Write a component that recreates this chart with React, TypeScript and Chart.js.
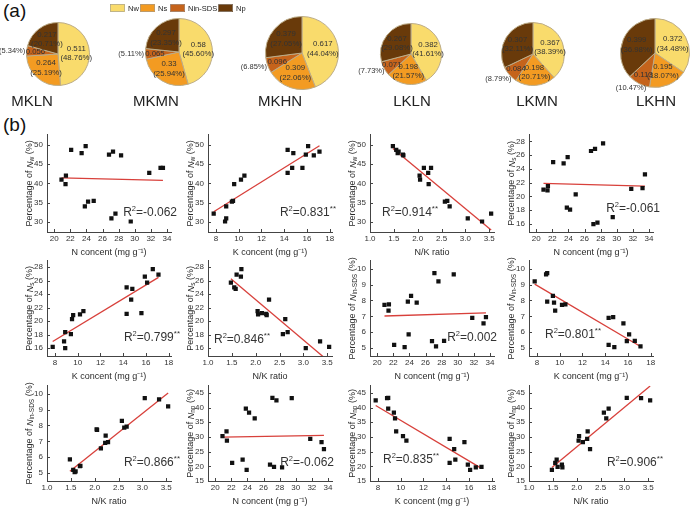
import React, { useEffect, useRef } from 'react';
import { Chart, registerables } from 'chart.js';

Chart.register(...registerables);

const FONT = '"Liberation Sans", Arial, Helvetica, sans-serif';

// ---------------- (a) pie data ----------------
const treatments = ['MKLN', 'MKMN', 'MKHN', 'LKLN', 'LKMN', 'LKHN'];
const fractionNames = ['Nw', 'Ns', 'Nin-SDS', 'Np'];
const nwValue = [0.511, 0.58, 0.617, 0.382, 0.367, 0.372];
const nsValue = [0.264, 0.33, 0.309, 0.198, 0.198, 0.195];
const ninValue = [0.056, 0.065, 0.096, 0.071, 0.084, 0.113];
const npValue = [0.217, 0.297, 0.379, 0.267, 0.307, 0.399];
const nwPct = [48.76, 45.6, 44.04, 41.61, 38.39, 34.48];
const nsPct = [25.19, 25.94, 22.06, 21.57, 20.71, 18.07];
const ninPct = [5.34, 5.11, 6.85, 7.73, 8.79, 10.47];
const npPct = [20.71, 23.35, 27.05, 29.08, 32.11, 36.98];

// ---------------- (b) scatter data (18 observations) ----------------
const nConc = [20.9, 21.4, 21.45, 22.1, 23.4, 23.9, 23.8, 24.2, 24.9, 26.8, 27.3, 28.3, 27.1, 27.6, 29.5, 31.8, 33.2, 33.5];
const kConc = [10.2, 9.6, 10.5, 14.3, 14.8, 16.1, 8.9, 9.4, 9.5, 15.9, 17.1, 16.6, 8.9, 7.8, 8.8, 14.3, 15.6, 14.7];
const nkRatio = [2.05, 2.23, 2.04, 1.55, 1.58, 1.48, 2.67, 2.57, 2.62, 1.69, 1.6, 1.7, 3.05, 3.54, 3.35, 2.22, 2.13, 2.28];
const pctNw = [41.0, 39.8, 42.0, 48.6, 47.8, 49.6, 34.1, 35.3, 35.5, 47.4, 48.2, 47.2, 31.0, 32.2, 30.2, 42.7, 44.0, 44.0];
const pctNs = [21.0, 20.9, 21.5, 25.0, 24.8, 25.7, 18.4, 18.1, 20.3, 26.6, 26.9, 27.7, 16.0, 16.2, 17.0, 21.1, 21.2, 23.2];
const pctNin = [7.72, 7.36, 7.76, 5.2, 5.06, 5.87, 7.92, 8.29, 7.86, 5.44, 5.1, 5.46, 9.72, 9.2, 9.64, 6.9, 6.55, 6.95];
const pctNp = [30.3, 31.9, 28.7, 21.2, 22.3, 18.8, 39.6, 38.3, 36.3, 20.6, 19.8, 19.6, 43.3, 42.4, 43.2, 29.3, 28.25, 25.85];

// tick labels
const nTicks = [20, 22, 24, 26, 28, 30, 32, 34];
const kTicks = [8, 10, 12, 14, 16, 18];
const nkTicks = [1.0, 1.5, 2.0, 2.5, 3.0, 3.5];
const nwTicks = [30, 35, 40, 45, 50];
const nsTicks = [16, 18, 20, 22, 24, 26, 28];
const ninTicks = [5, 6, 7, 8, 9, 10];
const npTicks = [15, 20, 25, 30, 35, 40, 45];

// fitted regression lines (end points)
const fitNwN = [[20.9, 41.4], [33.5, 40.8]];
const fitNwK = [[7.8, 32.7], [17.1, 49.7]];
const fitNwNK = [[1.48, 49.0], [3.54, 28.0]];
const fitNsN = [[20.9, 21.9], [33.5, 21.5]];
const fitNsK = [[7.8, 17.0], [17.1, 26.5]];
const fitNsNK = [[1.48, 26.3], [3.54, 14.0]];
const fitNinN = [[20.9, 7.02], [33.5, 7.22]];
const fitNinK = [[7.8, 9.03], [17.1, 5.1]];
const fitNinNK = [[1.48, 5.12], [3.54, 10.05]];
const fitNpN = [[20.9, 29.9], [33.5, 30.5]];
const fitNpK = [[7.8, 40.7], [17.1, 19.3]];
const fitNpNK = [[1.48, 19.6], [3.54, 47.3]];

const r2Labels = ['-0.062', '0.831**', '0.914**', '-0.061', '0.799**', '0.846**', '0.002', '0.801**', '0.866**', '-0.062', '0.835**', '0.906**'];

// ---------------- styles ----------------
const pieColors = ['#F9DB6C', '#F39B22', '#C5631B', '#693A0A'];
const pieBorder = '#BCAC88';
const RED = '#D8403B';
const AXIS = '#444';
const TXT = '#2a2a2a';

const pieCenters = [[58, 54], [179, 52], [302, 53], [411, 54], [533, 54], [655, 53]];
const pieRadii = [32, 34, 37, 31, 32, 35];
const nameCenters = [32, 156, 280, 412, 537, 656];

const xAxes: any = {
  N: { title: 'N concent (mg g\u207B\u00B9)', min: 19.1, max: 34.5, ticks: nTicks, dec: 0 },
  K: { title: 'K concent (mg g\u207B\u00B9)', min: 7.3, max: 18.2, ticks: kTicks, dec: 0 },
  NK: { title: 'N/K ratio', min: 1.0, max: 3.6, ticks: nkTicks, dec: 1 },
};
const yAxes: any = {
  Nw: { sub: 'w', min: 27.5, max: 52.5, ticks: nwTicks },
  Ns: { sub: 's', min: 14.85, max: 28.95, ticks: nsTicks },
  Nin: { sub: 'in-SDS', min: 4.5, max: 10.5, ticks: ninTicks },
  Np: { sub: 'np', min: 15, max: 47.4, ticks: npTicks },
};

const colLeft = [47, 208, 370, 529];
const rowTop = [132, 258, 383];
const rowH = [100, 98, 98];
const PLOT_W = 124;

type Panel = { xs: number[]; ys: number[]; xa: string; ya: string; fit: number[][]; align: 'left' | 'right'; dx: number; dy: number };

const panels: Panel[] = [
  { xs: nConc, ys: pctNw, xa: 'N', ya: 'Nw', fit: fitNwN, align: 'right', dx: 6, dy: 19 },
  { xs: kConc, ys: pctNw, xa: 'K', ya: 'Nw', fit: fitNwK, align: 'right', dx: 4, dy: 19 },
  { xs: nkRatio, ys: pctNw, xa: 'NK', ya: 'Nw', fit: fitNwNK, align: 'left', dx: 12, dy: 19 },
  { xs: nConc, ys: pctNs, xa: 'N', ya: 'Ns', fit: fitNsN, align: 'right', dx: 7, dy: 23 },
  { xs: kConc, ys: pctNs, xa: 'K', ya: 'Ns', fit: fitNsK, align: 'right', dx: 9, dy: 18 },
  { xs: nkRatio, ys: pctNs, xa: 'NK', ya: 'Ns', fit: fitNsNK, align: 'left', dx: 6, dy: 16 },
  { xs: nConc, ys: pctNin, xa: 'N', ya: 'Nin', fit: fitNinN, align: 'right', dx: 3, dy: 18 },
  { xs: kConc, ys: pctNin, xa: 'K', ya: 'Nin', fit: fitNinK, align: 'left', dx: 16, dy: 21 },
  { xs: nkRatio, ys: pctNin, xa: 'NK', ya: 'Nin', fit: fitNinNK, align: 'right', dx: 9, dy: 18 },
  { xs: nConc, ys: pctNp, xa: 'N', ya: 'Np', fit: fitNpN, align: 'right', dx: 2, dy: 18 },
  { xs: kConc, ys: pctNp, xa: 'K', ya: 'Np', fit: fitNpK, align: 'left', dx: 13, dy: 21 },
  { xs: nkRatio, ys: pctNp, xa: 'NK', ya: 'Np', fit: fitNpNK, align: 'right', dx: 10, dy: 18 },
];

const Y_AXIS_W = 47;
const X_AXIS_H = 28;
const PAD_TOP = 6;
const PAD_RIGHT = 16;

function drawParts(ctx: CanvasRenderingContext2D, parts: any[], x0: number, y0: number, align: 'left' | 'right' | 'center') {
  let total = 0;
  parts.forEach((p) => {
    ctx.font = p.font;
    p.w = ctx.measureText(p.t).width;
    total += p.w;
  });
  let x = align === 'left' ? x0 : align === 'right' ? x0 - total : x0 - total / 2;
  ctx.textAlign = 'left';
  parts.forEach((p) => {
    ctx.font = p.font;
    ctx.fillText(p.t, x, y0 + (p.dy || 0));
    x += p.w;
  });
}

function scatterConfig(p: Panel, idx: number): any {
  const xa = xAxes[p.xa];
  const ya = yAxes[p.ya];
  const plugin = {
    id: 'panelDeco' + idx,
    afterDraw(chart: any) {
      const { ctx, chartArea } = chart;
      const xs = chart.scales.x;
      const ysc = chart.scales.y;
      ctx.save();
      // inward tick marks
      ctx.strokeStyle = AXIS;
      ctx.lineWidth = 1;
      ctx.beginPath();
      xs.ticks.forEach((t: any) => {
        const px = Math.round(xs.getPixelForValue(t.value)) + 0.5;
        ctx.moveTo(px, chartArea.bottom);
        ctx.lineTo(px, chartArea.bottom - 3);
      });
      ysc.ticks.forEach((t: any) => {
        const py = Math.round(ysc.getPixelForValue(t.value)) + 0.5;
        ctx.moveTo(chartArea.left, py);
        ctx.lineTo(chartArea.left + 3, py);
      });
      ctx.stroke();
      // y title with subscript
      ctx.fillStyle = TXT;
      ctx.textBaseline = 'middle';
      ctx.translate(chartArea.left - 17, (chartArea.top + chartArea.bottom) / 2);
      ctx.rotate(-Math.PI / 2);
      drawParts(ctx, [
        { t: 'Percentage of ', font: `9px ${FONT}` },
        { t: 'N', font: `italic 9px ${FONT}` },
        { t: ya.sub, font: `6.5px ${FONT}`, dy: 2.5 },
        { t: ' (%)', font: `9px ${FONT}` },
      ], 0, 0, 'center');
      ctx.setTransform(1, 0, 0, 1, 0, 0);
      // R^2 text
      const label = r2Labels[idx];
      const stars = label.endsWith('**') ? '**' : '';
      const num = label.replace('**', '');
      const x0 = p.align === 'right' ? chartArea.right + p.dx : chartArea.left + p.dx;
      const y0 = chartArea.bottom - p.dy;
      ctx.fillStyle = '#333';
      drawParts(ctx, [
        { t: 'R', font: `12px ${FONT}` },
        { t: '2', font: `7.5px ${FONT}`, dy: -4 },
        { t: '=' + num, font: `12px ${FONT}` },
        { t: stars, font: `8px ${FONT}`, dy: -4 },
      ], x0, y0, p.align);
      ctx.restore();
    },
  };
  return {
    type: 'scatter',
    data: {
      datasets: [
        {
          type: 'line',
          data: p.fit.map(([x, y]) => ({ x, y })),
          borderColor: RED,
          borderWidth: 1.3,
          pointRadius: 0,
          fill: false,
          tension: 0,
          order: 2,
        },
        {
          type: 'scatter',
          data: p.xs.map((x, i) => ({ x, y: p.ys[i] })),
          pointStyle: 'rect',
          pointRadius: 3,
          backgroundColor: '#111',
          borderColor: '#111',
          borderWidth: 0,
          order: 1,
        },
      ],
    },
    options: {
      responsive: false,
      animation: false,
      devicePixelRatio: 1,
      layout: { padding: { left: 0, top: PAD_TOP, right: PAD_RIGHT, bottom: 0 } },
      plugins: { legend: { display: false }, tooltip: { enabled: false } },
      scales: {
        x: {
          type: 'linear',
          min: xa.min,
          max: xa.max,
          afterBuildTicks: (s: any) => { s.ticks = xa.ticks.map((v: number) => ({ value: v })); },
          afterFit: (s: any) => { s.height = X_AXIS_H; },
          grid: { display: false, drawTicks: false },
          border: { display: true, color: AXIS, width: 1 },
          ticks: {
            autoSkip: false, maxRotation: 0, padding: 2, color: '#333',
            font: { size: 8, family: FONT },
            callback: (v: any) => (xa.dec ? Number(v).toFixed(1) : String(v)),
          },
          title: { display: true, text: xa.title, color: TXT, font: { size: 9, family: FONT }, padding: { top: 0, bottom: 2 } },
        },
        y: {
          type: 'linear',
          min: ya.min,
          max: ya.max,
          afterBuildTicks: (s: any) => { s.ticks = ya.ticks.map((v: number) => ({ value: v })); },
          afterFit: (s: any) => { s.width = Y_AXIS_W; },
          grid: { display: false, drawTicks: false },
          border: { display: true, color: AXIS, width: 1 },
          ticks: { autoSkip: false, padding: 4, color: '#333', font: { size: 8, family: FONT } },
        },
      },
    },
    plugins: [plugin],
  };
}

function pieConfig(i: number): any {
  const [cx, cy] = pieCenters[i];
  const r = pieRadii[i];
  const left = cx - r - 42;
  const vals = [nwValue[i], nsValue[i], ninValue[i], npValue[i]];
  const pcts = [nwPct[i], nsPct[i], ninPct[i], npPct[i]];
  const plugin = {
    id: 'pieLabels' + i,
    afterDatasetsDraw(chart: any) {
      const ctx = chart.ctx;
      const arcs = chart.getDatasetMeta(0).data;
      ctx.save();
      ctx.fillStyle = '#333';
      ctx.textBaseline = 'middle';
      arcs.forEach((arc: any, k: number) => {
        const { x, y, startAngle, endAngle, outerRadius } = arc.getProps(['x', 'y', 'startAngle', 'endAngle', 'outerRadius'], true);
        const mid = (startAngle + endAngle) / 2;
        const c = Math.cos(mid);
        const s = Math.sin(mid);
        const pctText = `(${pcts[k].toFixed(2)}%)`;
        if (k === 2) {
          ctx.font = `7.8px ${FONT}`;
          const rr = outerRadius * 0.72;
          ctx.textAlign = 'center';
          ctx.fillText(String(vals[k]), x + c * rr, y + s * rr);
          ctx.font = `7.5px ${FONT}`;
          const ro = outerRadius + 1.5;
          const w = ctx.measureText(pctText).width;
          const shift = (1 - Math.abs(c)) * w / 2;
          ctx.textAlign = 'right';
          ctx.fillText(pctText, x + c * ro + shift, y + s * ro + Math.max(0, s) * 4);
        } else {
          ctx.font = `7.8px ${FONT}`;
          const rr = outerRadius * 0.58;
          ctx.textAlign = 'center';
          ctx.fillText(String(vals[k]), x + c * rr, y + s * rr - 4.8);
          ctx.fillText(pctText, x + c * rr, y + s * rr + 4.8);
        }
      });
      // shared legend drawn on the MKMN chart
      if (i === 1) {
        const boxX = [110, 140, 170, 218];
        ctx.font = `7.5px ${FONT}`;
        ctx.textAlign = 'left';
        fractionNames.forEach((name, k) => {
          const bx = boxX[k] - left;
          ctx.fillStyle = pieColors[k];
          ctx.fillRect(bx, 4, 15, 8);
          ctx.strokeStyle = '#999';
          ctx.lineWidth = 0.6;
          ctx.strokeRect(bx + 0.5, 4.5, 14, 7);
          ctx.fillStyle = '#222';
          ctx.fillText(name, bx + 18, 8.5);
        });
      }
      ctx.restore();
    },
  };
  return {
    type: 'pie',
    data: {
      labels: fractionNames,
      datasets: [{ data: pcts, backgroundColor: pieColors, borderColor: pieBorder, borderWidth: 1 }],
    },
    options: {
      responsive: false,
      animation: false,
      devicePixelRatio: 1,
      layout: { padding: { left: 42, right: 42, top: cy - r, bottom: 14 } },
      plugins: { legend: { display: false }, tooltip: { enabled: false } },
    },
    plugins: [plugin],
  };
}

function ChartCanvas({ left, top, width, height, make }: { left: number; top: number; width: number; height: number; make: () => any }) {
  const ref = useRef<HTMLCanvasElement | null>(null);
  useEffect(() => {
    if (!ref.current) return;
    const chart = new Chart(ref.current, make());
    return () => chart.destroy();
  }, []);
  return (
    <div style={{ position: 'absolute', left, top, width, height }}>
      <canvas ref={ref} width={width} height={height} style={{ display: 'block' }} />
    </div>
  );
}

export default function App() {
  return (
    <div style={{ position: 'absolute', left: 0, top: 0, width: 691, height: 506, overflow: 'hidden', background: '#fff', fontFamily: FONT }}>
      <div style={{ position: 'absolute', left: 3, top: 1, fontSize: 19, lineHeight: 1, color: '#111' }}>(a)</div>
      <div style={{ position: 'absolute', left: 3, top: 115, fontSize: 19, lineHeight: 1, color: '#111' }}>(b)</div>
      {treatments.map((name, i) => {
        const [cx, cy] = pieCenters[i];
        const r = pieRadii[i];
        return (
          <React.Fragment key={name}>
            <ChartCanvas left={cx - r - 42} top={0} width={2 * r + 84} height={cy + r + 14} make={() => pieConfig(i)} />
            <div style={{ position: 'absolute', left: nameCenters[i] - 40, width: 80, top: 93, textAlign: 'center', fontSize: 15, lineHeight: 1, color: '#222' }}>{name}</div>
          </React.Fragment>
        );
      })}
      {panels.map((p, idx) => {
        const row = Math.floor(idx / 4);
        const col = idx % 4;
        const left = colLeft[col] - Y_AXIS_W;
        const top = rowTop[row] - PAD_TOP;
        const width = Y_AXIS_W + PLOT_W + PAD_RIGHT;
        const height = PAD_TOP + rowH[row] + X_AXIS_H;
        return <ChartCanvas key={idx} left={left} top={top} width={width} height={height} make={() => scatterConfig(p, idx)} />;
      })}
    </div>
  );
}
